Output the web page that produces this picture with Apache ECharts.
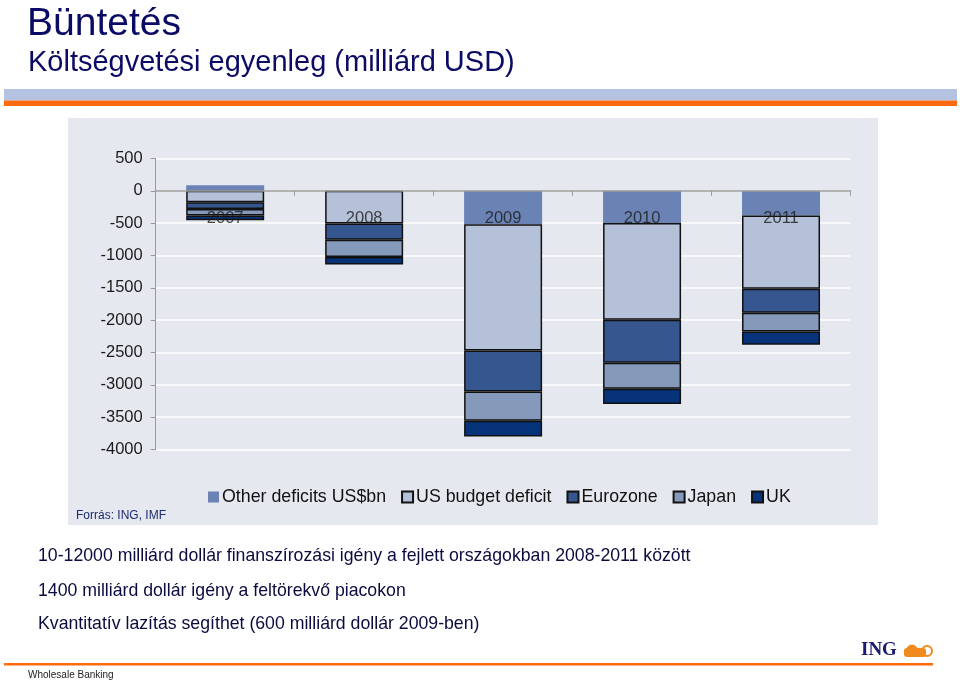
<!DOCTYPE html>
<html><head><meta charset="utf-8">
<script src="https://cdn.jsdelivr.net/npm/echarts@6/dist/echarts.min.js"></script>
<style>html,body{margin:0;padding:0;background:#fff}#c{width:960px;height:683px}</style>
</head><body><div id="c"></div>
<script>
const categories = ['2007', '2008', '2009', '2010', '2011'];
const otherDeficits = [88, 0, -516, -496, -381];
const usBudget = [-175, -505, -1954, -1498, -1132];
const eurozone = [-105, -250, -635, -666, -372];
const japan = [-100, -270, -450, -399, -290];
const uk = [-75, -115, -243, -237, -206];
const yTicks = { min: -4000, max: 500, interval: 500 };

const FONT = '"Liberation Sans", Arial, sans-serif';
const chart = echarts.init(document.getElementById('c'), null, { renderer: 'canvas' });

function ser(name, data, color, border) {
  return {
    name, type: 'bar', stack: 'total', data, barWidth: 78,
    itemStyle: { color, borderColor: border ? '#111' : color, borderWidth: border ? 1.5 : 0 },
    emphasis: { disabled: true }
  };
}

chart.setOption({
  animation: false,
  textStyle: { fontFamily: FONT },
  graphic: [
    { type: 'text', left: 27, top: 5, z: 10, style: { text: 'Büntetés', font: '39px ' + FONT, fill: '#0b0b66' } },
    { type: 'text', left: 28, top: 48, z: 10, style: { text: 'Költségvetési egyenleg (milliárd USD)', font: '29px ' + FONT, fill: '#0b0b66' } },
    { type: 'rect', shape: { x: 4, y: 89, width: 953, height: 11.5 }, style: { fill: '#b3c3e1' }, z: 0 },
    { type: 'rect', shape: { x: 4, y: 100.5, width: 953, height: 5.5 }, style: { fill: '#ff6a0e' }, z: 0 },
    { type: 'rect', shape: { x: 68, y: 118, width: 810, height: 407 }, style: { fill: '#e5e8ee' }, z: -10 },
    { type: 'text', left: 76, top: 510, style: { text: 'Forrás: ING, IMF', font: '12px ' + FONT, fill: '#1e2b72' } },
    { type: 'text', left: 38, top: 547, style: { text: '10-12000 milliárd dollár finanszírozási igény a fejlett országokban 2008-2011 között', font: '17.7px ' + FONT, fill: '#0b0b40' } },
    { type: 'text', left: 38, top: 582, style: { text: '1400 milliárd dollár igény a feltörekvő piacokon', font: '17.7px ' + FONT, fill: '#0b0b40' } },
    { type: 'text', left: 38, top: 615, style: { text: 'Kvantitatív lazítás segíthet (600 milliárd dollár 2009-ben)', font: '17.7px ' + FONT, fill: '#0b0b40' } },
    { type: 'rect', shape: { x: 4, y: 663, width: 929, height: 2.5 }, style: { fill: '#ff6a0e' } },
    { type: 'text', left: 28, top: 670, style: { text: 'Wholesale Banking', font: '10px ' + FONT, fill: '#222' } },
    { type: 'text', left: 861, top: 641, style: { text: 'ING', font: 'bold 19px "Liberation Serif", "DejaVu Serif", serif', fill: '#1a1a6e' } },
    { type: 'circle', shape: { cx: 912, cy: 650, r: 5.5 }, style: { fill: '#f08a1c' } },
    { type: 'rect', shape: { x: 904, y: 648, width: 22, height: 9, r: 3 }, style: { fill: '#f08a1c' } },
    { type: 'circle', shape: { cx: 927, cy: 651, r: 5 }, style: { fill: 'none', stroke: '#f08a1c', lineWidth: 2 } }
  ],
  grid: { left: 155.7, right: 109.5, top: 158.5, bottom: 233.5, containLabel: false },
  legend: {
    left: 203, top: 483, icon: 'rect', itemWidth: 11, itemHeight: 11, itemGap: 15,
    textStyle: { fontSize: 17.8, color: '#111', fontFamily: FONT, padding: [0, 0, 0, -2] },
    data: ['Other deficits US$bn', 'US budget deficit', 'Eurozone', 'Japan', 'UK']
  },
  xAxis: {
    type: 'category', data: categories, z: 10,
    axisLine: { onZero: true, lineStyle: { color: '#9a9a9a', width: 1.5 } },
    axisTick: { show: true, length: 5, lineStyle: { color: '#9a9a9a' } },
    axisLabel: { show: false },
    splitLine: { show: false }
  },
  yAxis: {
    type: 'value', min: yTicks.min, max: yTicks.max, interval: yTicks.interval,
    axisLine: { show: true, lineStyle: { color: '#9a9a9a', width: 1 } },
    axisTick: { show: true, length: 5, lineStyle: { color: '#9a9a9a' } },
    axisLabel: { fontSize: 16.5, color: '#1a1a1a', margin: 13, fontFamily: FONT, formatter: v => String(v) },
    splitLine: { show: true, lineStyle: { color: '#ffffff', width: 1.5 } }
  },
  series: [
    ser('Other deficits US$bn', otherDeficits, '#6a83b4', false),
    ser('US budget deficit', usBudget, '#b5c1d9', true),
    ser('Eurozone', eurozone, '#36568f', true),
    ser('Japan', japan, '#8599bb', true),
    ser('UK', uk, '#07337a', true),
    {
      name: 'labels', type: 'scatter', z: 20, symbolSize: 2, silent: true,
      data: categories.map(c => [c, 0]),
      itemStyle: { color: 'rgba(0,0,0,0)' },
      label: { show: true, position: 'bottom', distance: 18.5, formatter: p => p.value[0],
               fontSize: 16.5, color: '#1a1a1a', fontFamily: FONT }
    }
  ]
});
</script></body></html>
